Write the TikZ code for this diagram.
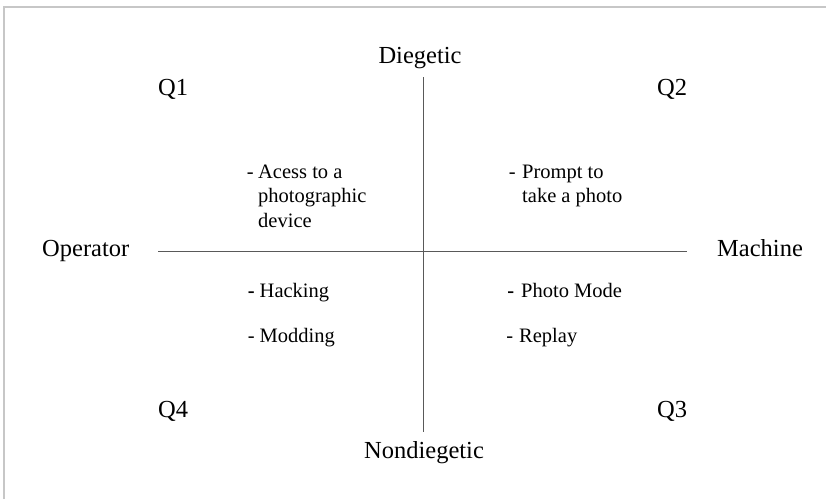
\documentclass[tikz,border=0pt]{standalone}
\usepackage{fontspec}
\setmainfont{Liberation Serif}
\begin{document}
\begin{tikzpicture}[x=1pt,y=-1pt,
  big/.style={inner sep=0pt,font=\fontsize{24.5}{29}\selectfont,text=black},
  small/.style={inner sep=0pt,font=\fontsize{20.5}{24.5}\selectfont,text=black,anchor=base west},
  axis/.style={draw=black!65,line width=1pt},
  frameline/.style={draw=black!22,line width=1.4pt}]
\useasboundingbox (0,0) rectangle (826,499);
\fill[white] (0,0) rectangle (826,499);
% frame
\coordinate (f1) at (4,499);
\coordinate (f2) at (4,7);
\coordinate (f3) at (826,7);
\draw[frameline] (f1) -- (f2) -- (f3);
% axes
\coordinate (vt) at (423,77);
\coordinate (vb) at (423,432);
\coordinate (hl) at (158,251);
\coordinate (hr) at (687,251);
\draw[axis] (vt) -- (vb);
\draw[axis] (hl) -- (hr);
% axis labels
\node[big,anchor=base] (dieg) at (420,63) {Diegetic};
\node[big,anchor=base] (nondieg) at (424,458) {Nondiegetic};
\node[big,anchor=base west] (oper) at (42,256) {Operator};
\node[big,anchor=base west] (mach) at (717,256) {Machine};
% quadrant labels
\node[big,anchor=base west] (q1) at (158,95) {Q1};
\node[big,anchor=base west] (q2) at (657,95) {Q2};
\node[big,anchor=base west] (q4) at (158,417) {Q4};
\node[big,anchor=base west] (q3) at (657,417) {Q3};
% Q1 items
\node[small] (acess) at (258,178) {\llap{-\hspace{4.5pt}}Acess to a};
\node[small] (photog) at (258,202.5) {photographic};
\node[small] (device) at (258,227) {device};
% Q2 items
\node[small] (prompt) at (522,178) {\llap{-\hspace{6.5pt}}Prompt to};
\node[small] (take) at (522,202) {take a photo};
% Q4 items
\node[small] (hack) at (259.5,297) {\llap{\textbf{-}\hspace{5pt}}Hacking};
\node[small] (mod) at (259.5,342) {\llap{-\hspace{5pt}}Modding};
% Q3 items
\node[small] (photomode) at (521,297) {\llap{\textbf{-}\hspace{7pt}}Photo Mode};
\node[small] (replay) at (519,342) {\llap{-\hspace{6pt}}Replay};
\end{tikzpicture}
\end{document}
